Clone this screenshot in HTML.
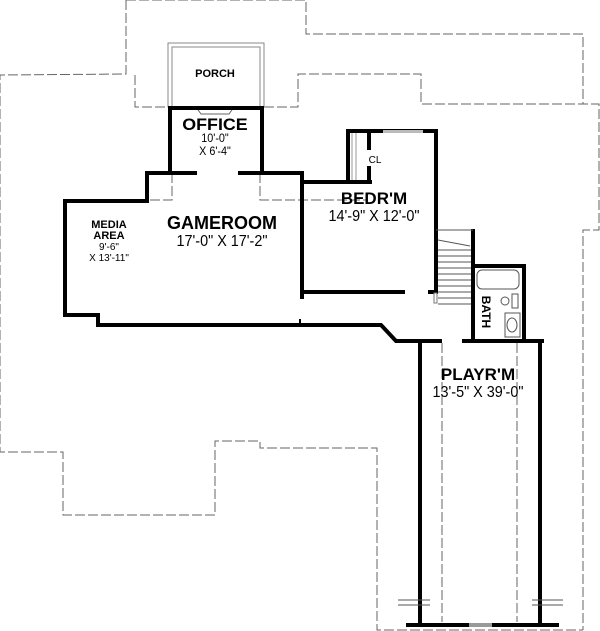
<!DOCTYPE html>
<html><head><meta charset="utf-8"><style>
html,body{margin:0;padding:0;background:#fff;}
svg{display:block;}
text{font-family:"Liberation Sans",sans-serif;text-anchor:middle;fill:#000;}
.b{font-weight:bold;}
</style></head><body>
<svg width="600" height="631" viewBox="0 0 600 631" xmlns="http://www.w3.org/2000/svg">
<g fill="none" stroke="#666" stroke-width="1" stroke-dasharray="10,3">
<polyline points="126,0 126,74 0,75 0,452 63,452 63,515 215,515 215,441 260,441 260,448 377,448 377,630 583,630"/>
<polyline points="126,0 306,0 306,34 583,34 583,104"/>
<polyline points="264,107 298,107 298,74 421,74 421,104 599,104 599,230 583,230 583,630"/>
<polyline points="135,75 135,107 170,107"/>
<line x1="442" y1="343" x2="442" y2="622"/>
<line x1="517" y1="343" x2="517" y2="622"/>
<polyline points="172,173 172,200 149,200"/>
<polyline points="260,173 260,200 367,200"/>
</g>
<g fill="none" stroke="#888" stroke-width="1">
<rect x="168" y="43" width="96" height="64"/>
<rect x="172" y="47" width="88" height="60"/>
</g>
<path d="M196,107 L234,107 L229,114 L201,114 Z" fill="#fff" stroke="#666" stroke-width="1"/>
<g fill="none" stroke="#000" stroke-width="4" stroke-linecap="square">
<polyline points="170,172 170,108 262,108 262,172"/>
<polyline points="195,173 147,173 147,201 65,201 65,315 98,315 98,325 381,325 396,341 440,341"/>
<polyline points="240,173 302,173 302,297"/>
<polyline points="464,341 542,341"/>
<line x1="420" y1="341" x2="420" y2="625"/>
<line x1="540" y1="341" x2="540" y2="625"/>
<line x1="408" y1="625" x2="557" y2="625"/>
<polyline points="302,182 370,182"/>
<polyline points="348,182 348,131 436,131 436,291"/>
<line x1="369" y1="131" x2="369" y2="148"/>
<line x1="369" y1="168" x2="369" y2="180"/>
<line x1="302" y1="292" x2="403" y2="292"/>
<line x1="430" y1="292" x2="436" y2="292"/>
<line x1="473" y1="231" x2="473" y2="341"/>
<polyline points="473,266 524,266 524,341"/>
</g>
<line x1="300" y1="319" x2="300" y2="325" stroke="#000" stroke-width="2"/>
<rect x="469" y="623" width="23" height="4" fill="#999"/>
<rect x="383" y="130" width="40" height="3" fill="#bbb"/>
<line x1="352" y1="133" x2="352" y2="180" stroke="#999"/>
<line x1="356" y1="133" x2="356" y2="180" stroke="#999"/>
<g stroke="#555" stroke-width="1">
<line x1="436" y1="230" x2="473" y2="230"/>
<line x1="438" y1="240" x2="470" y2="246"/>
<line x1="438" y1="250" x2="471" y2="250"/>
<line x1="438" y1="256" x2="471" y2="256"/>
<line x1="438" y1="262" x2="471" y2="262"/>
<line x1="438" y1="268" x2="471" y2="268"/>
<line x1="438" y1="274" x2="471" y2="274"/>
<line x1="438" y1="280" x2="471" y2="280"/>
<line x1="438" y1="286" x2="471" y2="286"/>
<line x1="438" y1="292" x2="471" y2="292"/>
<line x1="438" y1="298" x2="471" y2="298"/>
<line x1="438" y1="304" x2="471" y2="304"/>
</g>
<rect x="434" y="293" width="3" height="10" fill="#fff" stroke="#777"/>
<g fill="none" stroke="#555" stroke-width="1">
<rect x="477" y="270" width="42" height="19" rx="5"/>
<circle cx="505" cy="301" r="4"/>
<rect x="512" y="294" width="6" height="14"/>
<rect x="505" y="313" width="15" height="24"/>
<ellipse cx="512" cy="325" rx="5" ry="7"/>
</g>
<g stroke="#555" stroke-width="1">
<line x1="398" y1="600" x2="430" y2="600"/><line x1="398" y1="605" x2="430" y2="605"/>
<line x1="532" y1="600" x2="563" y2="600"/><line x1="532" y1="605" x2="563" y2="605"/>
</g>
<text class="b" x="215" y="77" font-size="11">PORCH</text>
<text class="b" x="215" y="130" font-size="17" transform="translate(215,0) scale(1.05,1) translate(-215,0)">OFFICE</text>
<text x="215" y="142" font-size="12" transform="translate(215,0) scale(0.9,1) translate(-215,0)">10'-0"</text>
<text x="215" y="155" font-size="12" transform="translate(215,0) scale(0.9,1) translate(-215,0)">X 6'-4"</text>
<text x="375" y="163" font-size="10">CL</text>
<text class="b" x="374" y="204" font-size="17">BEDR'M</text>
<text x="374" y="221" font-size="16" transform="translate(374,0) scale(0.9,1) translate(-374,0)">14'-9" X 12'-0"</text>
<text class="b" x="222" y="229" font-size="18">GAMEROOM</text>
<text x="222" y="246" font-size="16" transform="translate(222,0) scale(0.9,1) translate(-222,0)">17'-0" X 17'-2"</text>
<text class="b" x="109" y="228" font-size="11">MEDIA</text>
<text class="b" x="109" y="239" font-size="11">AREA</text>
<text x="109" y="250" font-size="10">9'-6"</text>
<text x="109" y="261" font-size="10">X 13'-11"</text>
<text class="b" x="478" y="380" font-size="17">PLAYR'M</text>
<text x="478" y="397" font-size="16" transform="translate(478,0) scale(0.9,1) translate(-478,0)">13'-5" X 39'-0"</text>
<text class="b" font-size="12" transform="translate(482,312) rotate(90)">BATH</text>
</svg>
</body></html>
